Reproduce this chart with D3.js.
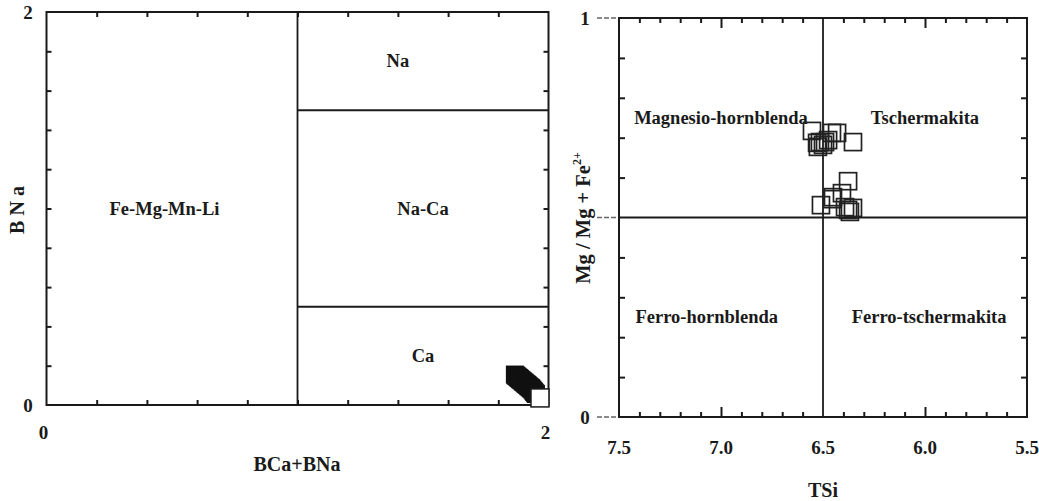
<!DOCTYPE html>
<html><head><meta charset="utf-8">
<script src="https://cdn.jsdelivr.net/npm/d3@7/dist/d3.min.js"></script>
<style>
body{margin:0;background:#fff}
svg{display:block}
text{font-family:"Liberation Serif","Times New Roman",serif;font-weight:bold;fill:#1a1a1a}
</style>
</head><body>
<svg id="c" width="1039" height="501"></svg>
<script>
// ---------- data: left diagram (BNa vs BCa+BNa) ----------
const leftTickLabels = [0, 2];
const leftMinorTicks = [0.2, 0.4, 0.6, 0.8, 1.0, 1.2, 1.4, 1.6, 1.8];
const leftFieldNames = ["Na", "Na-Ca", "Ca", "Fe-Mg-Mn-Li"];
const leftFieldX = [1.4, 1.5, 1.5, 0.47];
const leftFieldY = [1.75, 1.0, 0.25, 1.0];
const leftBoundX1 = [1, 1, 1];
const leftBoundY1 = [0, 1.5, 0.5];
const leftBoundX2 = [1, 2, 2];
const leftBoundY2 = [2, 1.5, 0.5];
const bcaBna = [1.866, 1.869, 1.872, 1.876, 1.879, 1.883, 1.886, 1.889, 1.893, 1.897, 1.900, 1.904,
                1.907, 1.911, 1.914, 1.918, 1.921, 1.925, 1.929, 1.932, 1.936, 1.940, 1.943, 1.947, 1.950];
const bna    = [0.155, 0.151, 0.148, 0.144, 0.140, 0.137, 0.133, 0.129, 0.126, 0.121, 0.118, 0.114,
                0.110, 0.106, 0.103, 0.099, 0.095, 0.091, 0.087, 0.083, 0.078, 0.071, 0.066, 0.060, 0.056];
const openBcaBna = [1.966];
const openBna = [0.036];

// ---------- data: right diagram (Mg/(Mg+Fe2+) vs TSi) ----------
const rightXTickLabels = [7.5, 7.0, 6.5, 6.0, 5.5];
const rightYTickLabels = [0, 1];
const rightXMinor = [7.4, 7.3, 7.2, 7.1, 6.9, 6.8, 6.7, 6.6, 6.4, 6.3, 6.2, 6.1, 5.9, 5.8, 5.7, 5.6];
const rightXMajor = [7.0, 6.0];
const rightYMinor = [0.1, 0.2, 0.3, 0.4, 0.6, 0.7, 0.8, 0.9];
const rightFieldNames = ["Magnesio-hornblenda", "Tschermakita", "Ferro-hornblenda", "Ferro-tschermakita"];
const rightFieldX = [7.0, 6.0, 7.07, 5.98];
const rightFieldY = [0.75, 0.75, 0.25, 0.25];
const tsi     = [6.554, 6.456, 6.431, 6.353, 6.529, 6.515, 6.490, 6.525, 6.500, 6.475,
                 6.377, 6.407, 6.451, 6.510, 6.456, 6.377, 6.353, 6.392, 6.368];
const mgRatio = [0.717, 0.712, 0.712, 0.689, 0.687, 0.689, 0.689, 0.677, 0.682, 0.694,
                 0.591, 0.561, 0.551, 0.531, 0.546, 0.519, 0.524, 0.526, 0.514];

const svg = d3.select("#c");
const ink = "#1a1a1a";
const FS_TICK = 19, FS_FIELD = 18.5, FS_TITLE = 20;

function tickAxis(g, axis, tr) {
  const a = g.append("g").attr("transform", tr).call(axis);
  a.select(".domain").remove();
  a.selectAll("line").attr("stroke", ink).attr("stroke-width", 2);
  a.selectAll("text").remove();
  return a;
}

// ================= LEFT =================
const xL = d3.scaleLinear().domain([0, 2]).range([46.5, 548.5]);
const yL = d3.scaleLinear().domain([0, 2]).range([405, 12]);
const gL = svg.append("g");

tickAxis(gL, d3.axisBottom(xL).tickValues(leftMinorTicks).tickSize(-5), `translate(0,${yL(0)})`);
tickAxis(gL, d3.axisTop(xL).tickValues(leftMinorTicks).tickSize(-5), `translate(0,${yL(2)})`);
tickAxis(gL, d3.axisLeft(yL).tickValues(leftMinorTicks).tickSize(-5), `translate(${xL(0)},0)`);
tickAxis(gL, d3.axisRight(yL).tickValues(leftMinorTicks).tickSize(-5), `translate(${xL(2)},0)`);

gL.selectAll("line.b").data(leftBoundX1).join("line")
  .attr("x1", (d, i) => xL(leftBoundX1[i])).attr("y1", (d, i) => yL(leftBoundY1[i]))
  .attr("x2", (d, i) => xL(leftBoundX2[i])).attr("y2", (d, i) => yL(leftBoundY2[i]))
  .attr("stroke", ink).attr("stroke-width", 1.8);

gL.append("rect").attr("x", xL(0)).attr("y", yL(2))
  .attr("width", xL(2) - xL(0)).attr("height", yL(0) - yL(2))
  .attr("fill", "none").attr("stroke", ink).attr("stroke-width", 2);

const sL = 18;
gL.selectAll("rect.p").data(bcaBna).join("rect")
  .attr("x", (d) => xL(d) - sL / 2).attr("y", (d, i) => yL(bna[i]) - sL / 2)
  .attr("width", sL).attr("height", sL).attr("fill", "#111");
gL.selectAll("rect.o").data(openBcaBna).join("rect")
  .attr("x", (d) => xL(d) - sL / 2).attr("y", (d, i) => yL(openBna[i]) - sL / 2)
  .attr("width", sL).attr("height", sL).attr("fill", "#fff").attr("stroke", ink).attr("stroke-width", 1.5);

gL.selectAll("text.xl").data(leftTickLabels).join("text")
  .attr("x", (d) => xL(d) - 3).attr("y", 439)
  .attr("text-anchor", "middle").attr("font-size", FS_TICK).text((d) => d);
gL.selectAll("text.yl").data(leftTickLabels).join("text")
  .attr("x", 28).attr("y", (d) => yL(d) + 7)
  .attr("text-anchor", "middle").attr("font-size", FS_TICK).text((d) => d);

gL.selectAll("text.f").data(leftFieldNames).join("text")
  .attr("x", (d, i) => xL(leftFieldX[i])).attr("y", (d, i) => yL(leftFieldY[i]) + 6)
  .attr("text-anchor", "middle").attr("font-size", FS_FIELD).text((d) => d);

gL.append("text").attr("x", 297).attr("y", 471).attr("text-anchor", "middle")
  .attr("font-size", FS_TITLE).text("BCa+BNa");
gL.append("text").attr("transform", "translate(24,210) rotate(-90)").attr("text-anchor", "middle")
  .attr("font-size", FS_TITLE).text("B N a");

// ================= RIGHT =================
const xR = d3.scaleLinear().domain([7.5, 5.5]).range([619, 1027]);
const yR = d3.scaleLinear().domain([0, 1]).range([417, 18]);
const gR = svg.append("g");

tickAxis(gR, d3.axisBottom(xR).tickValues(rightXMinor).tickSize(-5), `translate(0,${yR(0)})`);
tickAxis(gR, d3.axisBottom(xR).tickValues(rightXMajor).tickSize(-10), `translate(0,${yR(0)})`);
tickAxis(gR, d3.axisTop(xR).tickValues(rightXMinor).tickSize(-5), `translate(0,${yR(1)})`);
tickAxis(gR, d3.axisTop(xR).tickValues(rightXMajor).tickSize(-10), `translate(0,${yR(1)})`);
tickAxis(gR, d3.axisLeft(yR).tickValues(rightYMinor).tickSize(-6), `translate(${xR(7.5)},0)`);
tickAxis(gR, d3.axisRight(yR).tickValues(rightYMinor).tickSize(-6), `translate(${xR(5.5)},0)`);

gR.selectAll("line.d").data([0, 0.5, 1]).join("line")
  .attr("x1", 597).attr("x2", xR(7.5)).attr("y1", (d) => yR(d)).attr("y2", (d) => yR(d))
  .attr("stroke", "#666").attr("stroke-width", 1.3).attr("stroke-dasharray", "5,2");

gR.append("line").attr("x1", xR(6.5)).attr("x2", xR(6.5)).attr("y1", yR(0)).attr("y2", yR(1))
  .attr("stroke", ink).attr("stroke-width", 1.8);
gR.append("line").attr("x1", xR(7.5)).attr("x2", xR(5.5)).attr("y1", yR(0.5)).attr("y2", yR(0.5))
  .attr("stroke", ink).attr("stroke-width", 1.8);

gR.append("rect").attr("x", xR(7.5)).attr("y", yR(1))
  .attr("width", xR(5.5) - xR(7.5)).attr("height", yR(0) - yR(1))
  .attr("fill", "none").attr("stroke", ink).attr("stroke-width", 2);

gR.selectAll("text.f").data(rightFieldNames).join("text")
  .attr("x", (d, i) => xR(rightFieldX[i])).attr("y", (d, i) => yR(rightFieldY[i]) + 6)
  .attr("text-anchor", "middle").attr("font-size", FS_FIELD).text((d) => d);

const sR = 17;
gR.selectAll("rect.p").data(tsi).join("rect")
  .attr("x", (d) => xR(d) - sR / 2).attr("y", (d, i) => yR(mgRatio[i]) - sR / 2)
  .attr("width", sR).attr("height", sR).attr("fill", "none")
  .attr("stroke", "#222").attr("stroke-width", 1.7);

gR.selectAll("text.xl").data(rightXTickLabels).join("text")
  .attr("x", (d) => xR(d)).attr("y", 454)
  .attr("text-anchor", "middle").attr("font-size", FS_TICK).text((d) => d.toFixed(1));
gR.selectAll("text.yl").data(rightYTickLabels).join("text")
  .attr("x", 585).attr("y", (d) => yR(d) + 7)
  .attr("text-anchor", "middle").attr("font-size", FS_TICK).text((d) => d);

gR.append("text").attr("x", xR(6.5)).attr("y", 497).attr("text-anchor", "middle")
  .attr("font-size", FS_TITLE).text("TSi");
const yt = gR.append("text").attr("transform", "translate(590,218) rotate(-90)")
  .attr("text-anchor", "middle").attr("font-size", 20.5);
yt.append("tspan").text("Mg / Mg + Fe");
yt.append("tspan").attr("dy", -9).attr("font-size", 12).text("2+");
</script>
</body></html>
